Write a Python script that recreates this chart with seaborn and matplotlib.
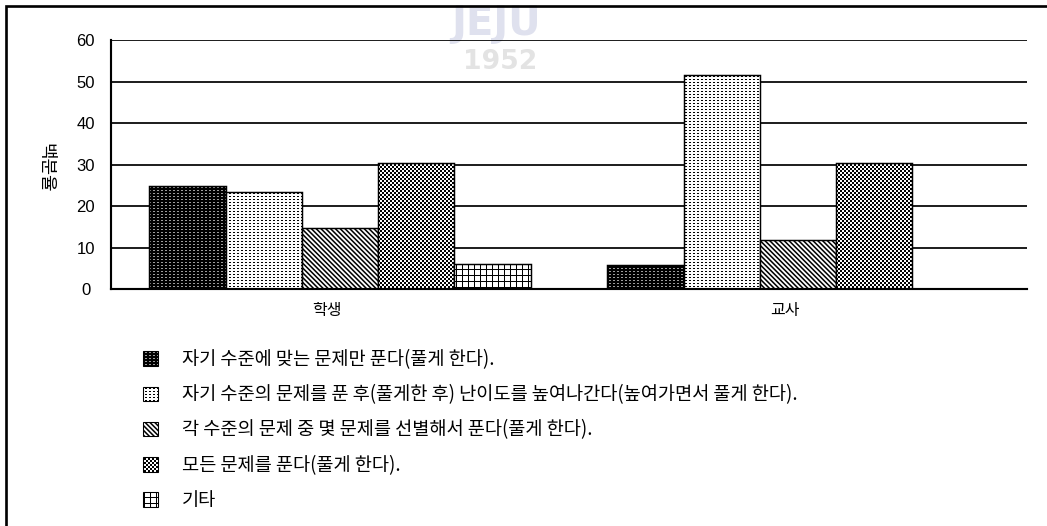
import warnings

import numpy as np
import pandas as pd
import matplotlib
matplotlib.use("Agg")
import matplotlib as mpl
import matplotlib.pyplot as plt
import matplotlib.hatch as mhatch
import matplotlib.patches as mpatches
import matplotlib.transforms as mtransforms
from matplotlib.path import Path
import seaborn as sns

warnings.filterwarnings("ignore", category=mpl.MatplotlibDeprecationWarning)

# ---------------------------------------------------------------- data
groups = ["학생", "교사"]
responses = [
    "자기 수준에 맞는 문제만 푼다(풀게 한다).",
    "자기 수준의 문제를 푼 후(풀게한 후) 난이도를 높여나간다(높여가면서 풀게 한다).",
    "각 수준의 문제 중 몇 문제를 선별해서 푼다(풀게 한다).",
    "모든 문제를 푼다(풀게 한다).",
    "기타",
]
student_pct = [24.8, 23.3, 14.7, 30.4, 6.0]
teacher_pct = [5.9, 51.6, 11.9, 30.4, 0.0]
y_ticks = [0, 10, 20, 30, 40, 50, 60]
y_label = "백분율"

# ---------------------------------------------------------------- hatches
DPI = 96
PX = 1.0 / DPI  # one device pixel inside a hatch tile (tile is DPI px wide)


def _rect(x0, y0, w, h, cw=False):
    pts = [(x0, y0), (x0 + w, y0), (x0 + w, y0 + h), (x0, y0 + h)]
    if cw:
        pts = pts[::-1]
    return [(x * PX, y * PX) for x, y in pts]


class _TileHatch(mhatch.HatchPatternBase):
    """Filled-polygon hatch built in device pixels of one tile."""
    key = ""

    def __init__(self, hatch, density):
        self.polys = self.build() if (hatch and self.key in hatch) else []
        self.num_vertices = sum(len(p) + 1 for p in self.polys)

    def build(self):
        return []

    def set_vertices_and_codes(self, vertices, codes):
        i = 0
        for poly in self.polys:
            n = len(poly)
            vertices[i:i + n] = poly
            vertices[i + n] = poly[0]
            codes[i] = Path.MOVETO
            codes[i + 1:i + n] = Path.LINETO
            codes[i + n] = Path.CLOSEPOLY
            i += n + 1


class _Checker(_TileHatch):
    key = "k"

    def build(self):
        n = DPI // 2
        return [_rect(2 * i, 2 * j, 2, 2)
                for i in range(n) for j in range(n) if (i + j) % 2 == 0]


class _DarkDots(_TileHatch):
    # solid ink with small holes that let the face colour through
    key = "d"

    def build(self):
        polys = [_rect(-2, -2, DPI + 4, DPI + 4)]
        polys += [_rect(4 * i + 1, 3 * j + 1, 2, 1, cw=True)
                  for i in range(DPI // 4) for j in range(DPI // 3)]
        return polys


class _LightDots(_TileHatch):
    key = "l"

    def build(self):
        return [_rect(4 * i + 1, 3 * j + 1, 2, 1)
                for i in range(DPI // 4) for j in range(DPI // 3)]


class _Grid(_TileHatch):
    key = "g"

    def build(self):
        polys = []
        for i in range(DPI // 6):
            polys.append(_rect(6 * i, -1, 1, DPI + 2))
            polys.append(_rect(-1, 6 * i, DPI + 2, 1))
        return polys


class _Stripes(_TileHatch):
    # diagonal bands running from upper left to lower right
    key = "s"

    def build(self):
        step, w = 4.8, 2.2
        polys = []
        for k in range(-2, 42):
            c = k * step
            pts = [(-4, c + 4), (DPI + 4, c - DPI - 4),
                   (DPI + 4, c + w - DPI - 4), (-4, c + w + 4)]
            polys.append([(x * PX, y * PX) for x, y in pts])
        return polys


mhatch._hatch_types.extend([_Checker, _DarkDots, _LightDots, _Grid, _Stripes])

bar_styles = [
    dict(hatch="d", facecolor="#a0a0a0"),
    dict(hatch="l", facecolor="white"),
    dict(hatch="s", facecolor="white"),
    dict(hatch="k", facecolor="white"),
    dict(hatch="g", facecolor="white"),
]

# ---------------------------------------------------------------- style
sns.set_theme(style="white")
plt.rcParams["font.family"] = ["Noto Sans CJK KR", "DejaVu Sans"]
plt.rcParams["hatch.linewidth"] = 0.01
plt.rcParams["axes.unicode_minus"] = False

W, H = 1047, 526
fig = plt.figure(figsize=(W / DPI, H / DPI), dpi=DPI, facecolor="white")
ax = fig.add_axes([111 / W, 1 - 289 / H, 916 / W, 248.5 / H])
ax.patch.set_visible(False)

# faint emblem lettering in the page background
fig.text(0.474, 1 - 4 / H, "JEJU", ha="center", va="top", fontsize=30,
         fontweight="bold", family=["DejaVu Sans"], color="#dfe1ee", zorder=-5)
fig.text(0.478, 1 - 62 / H, "1952", ha="center", va="center", fontsize=20,
         fontweight="bold", family=["DejaVu Sans"], color="#e3e3e3", zorder=-5)

df = pd.DataFrame({
    "group": np.repeat(groups, len(responses)),
    "response": responses * len(groups),
    "pct": student_pct + teacher_pct,
})

sns.barplot(
    data=df, x="group", y="pct", hue="response",
    order=groups, hue_order=responses,
    palette={r: "white" for r in responses}, saturation=1,
    width=0.832, edgecolor="black", linewidth=1.1,
    legend=False, ax=ax,
)

for container, style in zip(ax.containers, bar_styles):
    for bar in container:
        bar.set_facecolor(style["facecolor"])
        bar.set_hatch(style["hatch"])
        bar.set_edgecolor("black")

# ---------------------------------------------------------------- axes
ax.set_xlim(-0.5, 1.5)
ax.set_ylim(0, 60)
ax.set_yticks(y_ticks)
ax.set_yticklabels([str(t) for t in y_ticks], family=["Liberation Sans"],
                   fontsize=12.5, color="black")
plt.setp(ax.get_yticklabels(), ha="center")
ax.tick_params(axis="y", direction="out", length=3.5, width=1.6,
               pad=15.5, color="black")
ax.tick_params(axis="x", length=0, pad=10, labelsize=12, labelcolor="black")
offset = mtransforms.ScaledTranslation(-13 / DPI, 0, fig.dpi_scale_trans)
for lbl in ax.get_xticklabels():
    lbl.set_transform(lbl.get_transform() + offset)

ax.yaxis.grid(True, color="black", linewidth=1.3)
ax.xaxis.grid(False)
ax.set_axisbelow(True)
for side in ("top", "right"):
    ax.spines[side].set_visible(False)
for side in ("left", "bottom"):
    ax.spines[side].set_color("black")
    ax.spines[side].set_linewidth(1.6)
    ax.spines[side].set_zorder(4)

ax.set_xlabel("")
ax.set_ylabel(y_label, rotation=270, fontsize=13.5, color="black",
              ha="center", va="center")
ax.yaxis.set_label_coords(-0.072, 0.487)

# ---------------------------------------------------------------- legend
handles = [mpatches.Patch(edgecolor="black", linewidth=0.8, **s)
           for s in bar_styles]
fig.legend(
    handles, responses, loc="upper left",
    bbox_to_anchor=(143 / W, 1 - 349 / H), bbox_transform=fig.transFigure,
    frameon=False, fontsize=14, borderpad=0, borderaxespad=0,
    handlelength=0.82, handleheight=0.82, handletextpad=1.25,
    labelspacing=0.765, labelcolor="black",
)

# page frame (left and top edges)
fig.add_artist(mpatches.Rectangle(
    (6 / W, -0.2), 1.5, 1.2 - 6 / H, transform=fig.transFigure,
    fill=False, edgecolor="black", linewidth=2.0, clip_on=False))

fig.savefig("out.png", dpi=DPI, facecolor="white")
